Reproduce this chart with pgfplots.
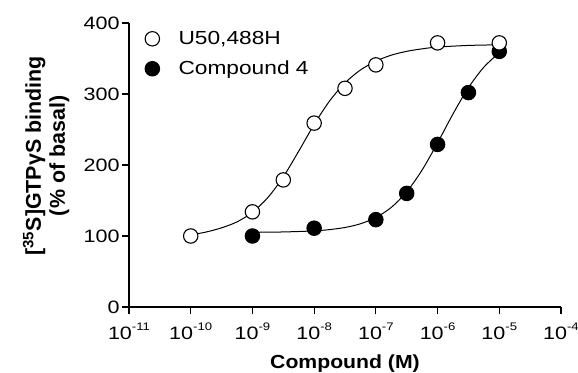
\documentclass[border=0pt]{standalone}
\usepackage{pgfplots}
\pgfplotsset{compat=1.18}
\usepackage{fontspec}
\setmainfont{Liberation Sans}
\newfontfamily\tickfont[FakeStretch=1.2]{Liberation Sans}
\newfontfamily\titlefont[FakeStretch=1.12]{Liberation Sans}
\newcommand\tk{\tickfont\fontsize{18}{18}\selectfont}
\newcommand\sx[1]{10\raisebox{9.5bp}{\fontsize{11}{11}\selectfont #1}}
\begin{document}
\begin{tikzpicture}
\useasboundingbox (0,0) rectangle (578bp,373bp);
\begin{axis}[
  at={(129bp,66bp)}, anchor=south west,
  scale only axis, width=432bp, height=284bp,
  xmin=-11, xmax=-4, ymin=0, ymax=400,
  axis x line*=bottom, axis y line*=left,
  axis line style={-, line width=1.2bp},
  every tick/.style={line width=1.2bp, black},
  tick align=outside, major tick length=7bp,
  xtick={-11,-10,-9,-8,-7,-6,-5,-4},
  xticklabels={\sx{-11},\sx{-10},\sx{-9},\sx{-8},\sx{-7},\sx{-6},\sx{-5},\sx{-4}},
  ytick={0,100,200,300,400},
  yticklabels={0,100,200,300,400},
  tick label style={font=\tk},
  xticklabel style={yshift=-5bp},
  yticklabel style={xshift=1bp},
  clip=false,
  xlabel={Compound (M)},
  xlabel style={font=\titlefont\bfseries\fontsize{19}{19}\selectfont, at={(axis description cs:0.5,-0.218)}, anchor=base},
  ylabel={[\textsuperscript{35}S]GTPγS binding\\(\% of basal)},
  ylabel style={font=\bfseries\fontsize{21.5}{24}\selectfont, align=center, at={(axis description cs:-0.192,0.532)}, anchor=center},
  legend style={at={(axis description cs:0.03,0.985)}, anchor=north west, draw=none, fill=none,
    font=\tickfont\fontsize{19}{19}\selectfont, row sep=11bp,
    /tikz/every odd column/.append style={column sep=17bp}},
  legend cell align=left,
  reverse legend,
]
% fitted curves
\addplot[black, line width=1bp, smooth, forget plot] coordinates {
(-9,105.2)(-8.5,105.7)(-8,107.2)(-7.75,109.0)(-7.5,112.0)(-7.25,117.2)(-7,126.0)
(-6.75,140.3)(-6.5,162.2)(-6.25,193.0)(-6,231.2)(-5.75,271.9)(-5.5,308.9)(-5.25,337.8)(-5,358.1)};
\addplot[black, line width=1bp, smooth, forget plot] coordinates {
(-10,101.5)(-9.75,105.6)(-9.5,111.5)(-9.25,119.9)(-9,133.4)(-8.75,154.2)(-8.5,183.3)(-8.25,219.5)
(-8,257.1)(-7.75,290.1)(-7.5,315.6)(-7.25,333.8)(-7,346.2)(-6.75,354.7)(-6.5,360.1)(-6.25,363.6)
(-6,366.1)(-5.5,368.4)(-5,369.3)};
% data
\addplot[only marks, mark=*, mark size=7.2bp, mark options={draw=black, fill=black, line width=1.1bp}] coordinates {
(-9,100)(-8,111)(-7,123)(-6.5,160)(-6,229)(-5.5,302)(-5,360)};
\addlegendentry{Compound 4}
\addplot[only marks, mark=*, mark size=7.2bp, mark options={draw=black, fill=white, line width=1.1bp}] coordinates {
(-10,100)(-9,134)(-8.5,179)(-8,259)(-7.5,308)(-7,341)(-6,372)(-5,372)};
\addlegendentry{U50,488H}
\end{axis}
\end{tikzpicture}
\end{document}
